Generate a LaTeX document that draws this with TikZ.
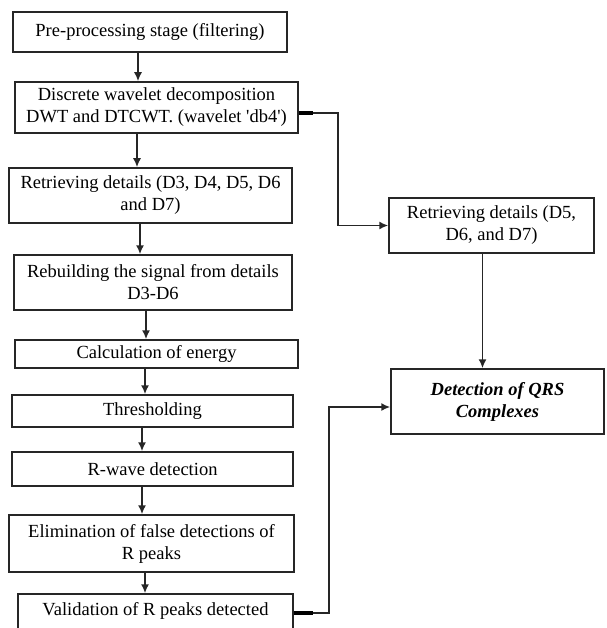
\documentclass[tikz,border=0pt]{standalone}
\usepackage{fontspec}
\setmainfont{Liberation Serif}
\usetikzlibrary{arrows.meta}

\begin{document}
\begin{tikzpicture}[x=1pt,y=-1pt,
  procbox/.style={draw=black!85,line width=1.5pt,inner sep=0pt,align=center,
    font=\fontsize{18.5}{22}\selectfont},
  flow/.style={draw=black!85,line width=1.6pt,-{Latex[length=9pt,width=8pt]}},
  stub/.style={line width=4pt,black}]
  \useasboundingbox (0,0) rectangle (606,628);
  % main column of steps
  \node[procbox,minimum width=274pt,minimum height=40pt] (pre) at (150,32)
    {Pre-processing stage (filtering)};
  \node[procbox,minimum width=283pt,minimum height=51pt] (dwt) at (156.5,107.5)
    {Discrete wavelet decomposition\\DWT and DTCWT. (wavelet \textquotesingle db4\textquotesingle)};
  \node[procbox,minimum width=283pt,minimum height=55pt] (det) at (150.5,195.5)
    {Retrieving details (D3, D4, D5, D6\\and D7)};
  \node[procbox,minimum width=278pt,minimum height=55pt] (rebuild) at (153,282.5)
    {Rebuilding the signal from details\\D3-D6};
  \node[procbox,minimum width=283pt,minimum height=28pt] (energy) at (156.5,354)
    {Calculation of energy};
  \node[procbox,minimum width=281pt,minimum height=32pt] (thresh) at (152.5,411)
    {Thresholding};
  \node[procbox,minimum width=281pt,minimum height=34pt] (rwave) at (152.5,469)
    {R-wave detection};
  \node[procbox,minimum width=285pt,minimum height=57pt] (elim) at (151.5,543.5)
    {Elimination of false detections of\\R peaks};
  % last step runs past the bottom edge
  \node[procbox,minimum width=275pt,text height=11pt,text depth=20pt,inner ysep=10pt,
    anchor=base] (valid) at (155.5,615) {Validation of R peaks detected};
  % right column
  \node[procbox,minimum width=205pt,minimum height=55pt] (r5) at (491.5,225.5)
    {Retrieving details (D5,\\D6, and D7)};
  \node[procbox,minimum width=213pt,minimum height=65pt,
    font=\fontsize{18.5}{22}\selectfont\bfseries\itshape] (qrs) at (497.5,401.5)
    {Detection of QRS\\Complexes};
  % vertical arrows
  \draw[flow] ([xshift=-12pt]pre.south) -- ([xshift=-12pt]pre.south |- dwt.north);
  \draw[flow] ([xshift=-19.5pt]dwt.south) -- ([xshift=-19.5pt]dwt.south |- det.north);
  \draw[flow] ([xshift=-10.5pt]det.south) -- ([xshift=-10.5pt]det.south |- rebuild.north);
  \draw[flow] ([xshift=-7pt]rebuild.south) -- ([xshift=-7pt]rebuild.south |- energy.north);
  \draw[flow] ([xshift=-11.5pt]energy.south) -- ([xshift=-11.5pt]energy.south |- thresh.north);
  \draw[flow] ([xshift=-10.5pt]thresh.south) -- ([xshift=-10.5pt]thresh.south |- rwave.north);
  \draw[flow] ([xshift=-10.5pt]rwave.south) -- ([xshift=-10.5pt]rwave.south |- elim.north);
  \draw[flow] ([xshift=-6.5pt]elim.south) -- ([xshift=-6.5pt]elim.south |- valid.north);
  \draw[flow] ([xshift=-9pt]r5.south) -- ([xshift=-9pt]r5.south |- qrs.north);
  % side branches
  \draw[flow] ([yshift=-5.5pt]dwt.east) -- ++(39,0) |- (r5.west);
  \draw[stub] ([yshift=-5.5pt]dwt.east) -- ++(14,0);
  \draw[flow] ([yshift=2pt]valid.base east) -- ++(35,0) |- ([yshift=-5.5pt]qrs.west);
  \draw[stub] ([yshift=2pt]valid.base east) -- ++(19,0);
\end{tikzpicture}
\end{document}
